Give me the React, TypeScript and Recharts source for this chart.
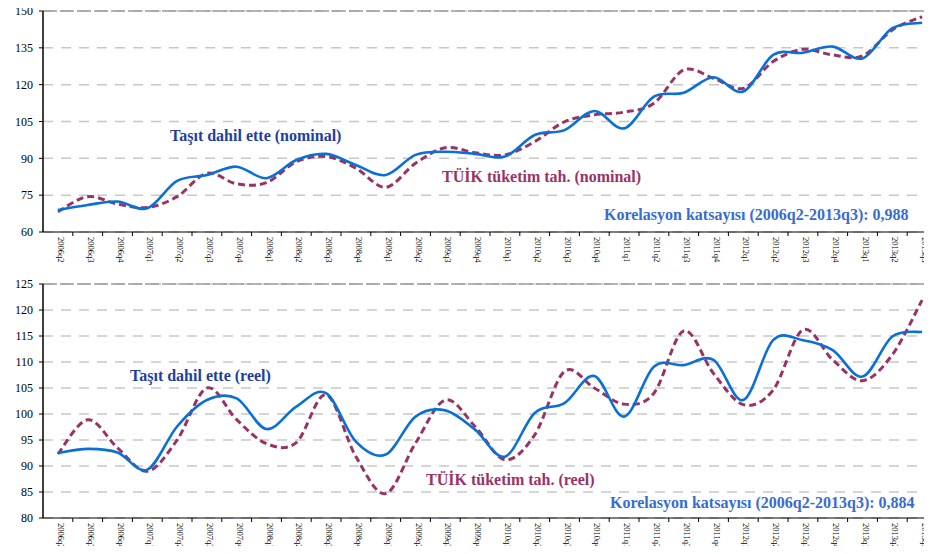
import React from "react";
import { LineChart, Line, XAxis, YAxis, CartesianGrid, ReferenceLine } from "recharts";

const quarters = [
  "2006q2", "2006q3", "2006q4",
  "2007q1", "2007q2", "2007q3", "2007q4",
  "2008q1", "2008q2", "2008q3", "2008q4",
  "2009q1", "2009q2", "2009q3", "2009q4",
  "2010q1", "2010q2", "2010q3", "2010q4",
  "2011q1", "2011q2", "2011q3", "2011q4",
  "2012q1", "2012q2", "2012q3", "2012q4",
  "2013q1", "2013q2", "2013q3",
];

const nominalTasit = [
  69.0, 71.0, 72.4, 69.7, 80.8, 83.2, 86.6, 81.9, 89.3, 91.8, 87.3, 83.2, 91.4, 92.7, 91.8,
  90.7, 99.5, 101.5, 109.3, 102.2, 115.1, 116.7, 123.0, 117.2, 132.1, 133.0, 135.5, 130.7, 143.0, 145.2,
];
const nominalTuik = [
  68.3, 74.4, 71.4, 70.0, 74.4, 83.9, 79.6, 80.1, 88.6, 90.7, 86.0, 78.2, 88.0, 94.3, 92.3,
  91.4, 96.8, 104.9, 107.7, 108.8, 112.4, 126.0, 122.6, 118.5, 129.4, 134.4, 132.1, 131.7, 142.3, 147.7,
];
const reelTasit = [
  92.5, 93.3, 92.6, 89.3, 97.6, 102.7, 103.0, 97.1, 101.4, 104.0, 94.7, 92.2, 99.5, 100.7, 97.0,
  91.8, 100.2, 102.1, 107.3, 99.5, 109.1, 109.4, 110.4, 102.7, 114.2, 114.2, 112.3, 107.2, 114.9, 115.8,
];
const reelTuik = [
  92.3, 98.9, 93.5, 89.0, 95.0, 105.0, 98.9, 94.3, 94.5, 103.7, 91.8, 84.7, 94.4, 102.7, 97.6,
  91.2, 96.0, 108.2, 105.0, 101.9, 104.0, 116.0, 107.8, 101.8, 104.6, 116.2, 110.4, 106.4, 111.4, 121.9,
];

const nominalTicks = [60, 75, 90, 105, 120, 135, 150];
const reelTicks = [80, 85, 90, 95, 100, 105, 110, 115, 120, 125];

const nominalData = quarters.map((q, i) => ({ q, tasit: nominalTasit[i], tuik: nominalTuik[i] }));
const reelData = quarters.map((q, i) => ({ q, tasit: reelTasit[i], tuik: reelTuik[i] }));

const FONT = "'Liberation Serif', 'Times New Roman', serif";
const CHART_W = 937;
const AXIS_W = 43;
const STEP = (CHART_W - AXIS_W) / quarters.length;

// Excel-like smoothed line (Catmull-Rom through the points)
const smoothCurve = (context: any) => {
  let pts: number[][] = [];
  return {
    areaStart() {},
    areaEnd() {},
    lineStart() {
      pts = [];
    },
    point(x: number, y: number) {
      pts.push([+x, +y]);
    },
    lineEnd() {
      if (!pts.length) return;
      context.moveTo(pts[0][0], pts[0][1]);
      for (let i = 0; i < pts.length - 1; i++) {
        const p0 = pts[Math.max(i - 1, 0)];
        const p1 = pts[i];
        const p2 = pts[i + 1];
        const p3 = pts[Math.min(i + 2, pts.length - 1)];
        context.bezierCurveTo(
          p1[0] + (p2[0] - p0[0]) / 6,
          p1[1] + (p2[1] - p0[1]) / 6,
          p2[0] - (p3[0] - p1[0]) / 6,
          p2[1] - (p3[1] - p1[1]) / 6,
          p2[0],
          p2[1]
        );
      }
    },
  };
};

const QuarterTick = ({ x, y, payload }: any) => (
  <g>
    <line x1={x + STEP / 2} y1={y} x2={x + STEP / 2} y2={y + 4} stroke="#000" strokeWidth={1} />
    <text
      x={x}
      y={y + 5}
      transform={`rotate(90, ${x}, ${y + 5})`}
      textAnchor="start"
      fontSize={8.5}
      fontFamily={FONT}
      fill="#000"
    >
      {payload.value}
    </text>
  </g>
);

function Panel({ data, ticks, height, xHeight }: { data: any[]; ticks: number[]; height: number; xHeight: number }) {
  return (
    <LineChart width={CHART_W} height={height} data={data} margin={{ top: 11, right: 0, bottom: 0, left: 0 }}>
      <CartesianGrid vertical={false} stroke="#c8c8c8" strokeWidth={1.5} strokeDasharray="10 8" />
      <ReferenceLine y={ticks[ticks.length - 1]} stroke="#9a9a9a" strokeWidth={1.5} strokeDasharray="14 3" />
      <XAxis
        dataKey="q"
        scale="band"
        height={xHeight}
        tick={<QuarterTick />}
        tickLine={false}
        tickSize={0}
        tickMargin={0}
        interval={0}
        axisLine={{ stroke: "#000", strokeWidth: 1 }}
      />
      <YAxis
        width={AXIS_W}
        domain={[ticks[0], ticks[ticks.length - 1]]}
        ticks={ticks}
        interval={0}
        tickSize={4}
        tickMargin={6}
        axisLine={{ stroke: "#000", strokeWidth: 1.5 }}
        tickLine={{ stroke: "#000" }}
        tick={{ fontSize: 12, fontFamily: FONT, fill: "#000" }}
      />
      <Line
        dataKey="tuik"
        type={smoothCurve as any}
        stroke="#993366"
        strokeWidth={3}
        strokeDasharray="7 4"
        dot={false}
        activeDot={false}
        isAnimationActive={false}
      />
      <Line
        dataKey="tasit"
        type={smoothCurve as any}
        stroke="#0a6fd6"
        strokeWidth={2.6}
        dot={false}
        activeDot={false}
        isAnimationActive={false}
      />
    </LineChart>
  );
}

const labelStyle = { fontFamily: FONT, fontWeight: 700, fontSize: 16 };

export default function App() {
  return (
    <div style={{ position: "relative", margin: -8, width: 932, height: 554, overflow: "hidden", background: "#fff" }}>
      <div style={{ position: "absolute", left: 0, top: 0 }}>
        <Panel data={nominalData} ticks={nominalTicks} height={266} xHeight={34} />
      </div>
      <div style={{ position: "absolute", left: 0, top: 273 }}>
        <Panel data={reelData} ticks={reelTicks} height={281} xHeight={36} />
      </div>
      <svg width={932} height={554} style={{ position: "absolute", left: 0, top: 0, pointerEvents: "none" }}>
        <text x={170} y={141} fill="#1f3f9f" style={labelStyle}>Taşıt dahil ette (nominal)</text>
        <text x={442} y={182} fill="#993366" style={labelStyle}>TÜİK tüketim tah. (nominal)</text>
        <text x={604} y={220} fill="#3a6bd1" style={labelStyle}>Korelasyon katsayısı (2006q2-2013q3): 0,988</text>
        <text x={130} y={381} fill="#1f3f9f" style={labelStyle}>Taşıt dahil ette (reel)</text>
        <text x={426} y={485} fill="#993366" style={labelStyle}>TÜİK tüketim tah. (reel)</text>
        <text x={610} y={508} fill="#3a6bd1" style={labelStyle}>Korelasyon katsayısı (2006q2-2013q3): 0,884</text>
      </svg>
    </div>
  );
}
